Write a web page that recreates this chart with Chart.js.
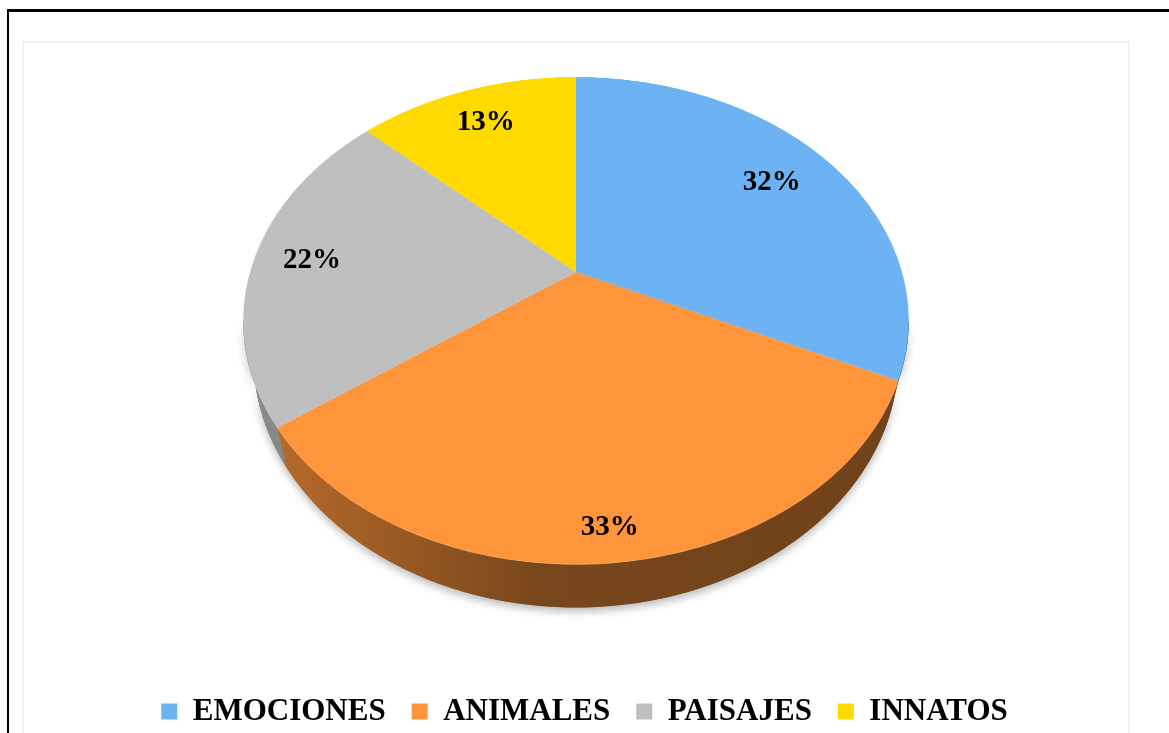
<!DOCTYPE html>
<html>
<head>
<meta charset="utf-8">
<script src="https://cdn.jsdelivr.net/npm/chart.js@4.4.0/dist/chart.umd.min.js"></script>
<style>
html, body { margin: 0; padding: 0; background: #fff; overflow: hidden; }
#frame { position: absolute; left: 7px; top: 9px; width: 1200px; height: 800px; border-top: 3px solid #000; border-left: 2px solid #000; }
#plot { position: absolute; left: 22px; top: 41px; width: 1104px; height: 800px; border: 2px solid #f2f2f2; }
#c { position: absolute; left: 0; top: 0; }
</style>
</head>
<body>
<div id="frame"></div>
<div id="plot"></div>
<canvas id="c" width="1169" height="737"></canvas>
<script>
var labels = ['EMOCIONES', 'ANIMALES', 'PAISAJES', 'INNATOS'];
var values = [32, 33, 22, 13];
var colors = ['#6db3f3', '#ff953b', '#bfbfbf', '#ffda00'];

// where each percentage sits along its slice radius (0 = centre, 1 = rim)
var labelRadius = [0.77, 0.9, 0.82, 0.8];

// tilted view of the pie: apex, half width, depth, perspective, wall height
var CX = 576, CY = 272, PA = 326, PB = 234, PP = 0.2, THICK = 34.4, RIM = 0.97;
var FRONT0 = Math.asin(PP), FRONT1 = Math.PI - Math.asin(PP);

function proj(alpha, r) {
  var X = Math.cos(alpha) * r, Z = -Math.sin(alpha) * r;
  var d = 1 + PP * Z;
  return { x: CX + PA * X / d, y: CY - PB * Z / d, d: d };
}

function shade(hex, f) {
  var n = parseInt(hex.slice(1), 16);
  return 'rgb(' + Math.round((n >> 16 & 255) * f) + ',' + Math.round((n >> 8 & 255) * f) + ',' + Math.round((n & 255) * f) + ')';
}

function wallPath(ctx, a0, a1) {
  var steps = Math.max(2, Math.ceil((a1 - a0) * 60));
  ctx.beginPath();
  for (var s = 0; s <= steps; s++) {
    var p = proj(a0 + (a1 - a0) * s / steps, 1);
    if (s === 0) ctx.moveTo(p.x, p.y); else ctx.lineTo(p.x, p.y);
  }
  for (var s2 = steps; s2 >= 0; s2--) {
    var q = proj(a0 + (a1 - a0) * s2 / steps, 1);
    ctx.lineTo(CX + (q.x - CX) * RIM, q.y + THICK / q.d);
  }
  ctx.closePath();
}

var pie3d = {
  id: 'pie3d',
  beforeDatasetsDraw: function(chart) {
    var ctx = chart.ctx;
    var arcs = chart.getDatasetMeta(0).data;

    // shadow under the wall
    ctx.save();
    ctx.shadowColor = 'rgba(0,0,0,0.28)';
    ctx.shadowBlur = 9;
    ctx.shadowOffsetY = 4;
    ctx.fillStyle = '#777';
    wallPath(ctx, FRONT0, FRONT1);
    ctx.fill();
    ctx.restore();

    // wall of each slice, lighter on the left
    arcs.forEach(function(el, i) {
      var a0 = Math.max(el.startAngle, FRONT0), a1 = Math.min(el.endAngle, FRONT1);
      if (a1 <= a0) return;
      var g = ctx.createLinearGradient(CX - PA * 1.02, 0, CX + PA * 1.02, 0);
      g.addColorStop(0, shade(colors[i], 0.74));
      g.addColorStop(0.45, shade(colors[i], 0.47));
      g.addColorStop(1, shade(colors[i], 0.44));
      ctx.fillStyle = g;
      wallPath(ctx, a0 - 0.002, a1 + 0.002);
      ctx.fill();
    });

    // top face: chart.js draws the slices flat, then rows are laid in perspective
    var S = 420;
    var off = document.createElement('canvas');
    off.width = off.height = 2 * S + 4;
    var o = off.getContext('2d');
    var e0 = arcs[0];
    var k = S / e0.outerRadius;
    o.save();
    o.translate(S + 2, S + 2);
    o.scale(k, k);
    o.translate(-e0.x, -e0.y);
    arcs.forEach(function(el) { el.draw(o); });
    o.restore();

    var top = Math.floor(-PB / (1 + PP)), bot = Math.ceil(PB / (1 - PP));
    for (var dy = top; dy <= bot; dy++) {
      var yc = dy + 0.5;
      var Z = -yc / (PB + PP * yc);
      if (Z > 1 || Z < -1) continue;
      var sy = S + 2 - Z * S;
      var hw = PA / (1 + PP * Z);
      ctx.drawImage(off, 2, sy - 0.5, 2 * S, 1, CX - hw, CY + dy, 2 * hw, 1);
    }
    return false;
  },
  afterDraw: function(chart) {
    var ctx = chart.ctx;
    var arcs = chart.getDatasetMeta(0).data;
    var total = values.reduce(function(a, b) { return a + b; }, 0);
    ctx.save();
    ctx.font = "bold 29px 'Liberation Serif', 'Times New Roman', serif";
    ctx.fillStyle = '#000';
    ctx.textAlign = 'center';
    ctx.textBaseline = 'middle';
    arcs.forEach(function(el, i) {
      var p = proj((el.startAngle + el.endAngle) / 2, labelRadius[i]);
      ctx.fillText(Math.round(values[i] / total * 100) + '%', p.x, p.y);
    });
    ctx.restore();
  }
};

var ctx = document.getElementById('c').getContext('2d');
var myChart = new Chart(ctx, {
  type: 'pie',
  data: {
    labels: labels,
    datasets: [{
      data: values,
      backgroundColor: colors,
      borderWidth: 0
    }]
  },
  options: {
    responsive: false,
    animation: false,
    events: [],
    plugins: {
      tooltip: { enabled: false },
      legend: {
        position: 'bottom',
        labels: {
          color: '#000',
          font: { family: "'Liberation Serif', 'Times New Roman', serif", size: 31, weight: 'bold' },
          boxWidth: 16,
          boxHeight: 16,
          padding: 26
        }
      }
    }
  },
  plugins: [pie3d]
});
</script>
</body>
</html>
